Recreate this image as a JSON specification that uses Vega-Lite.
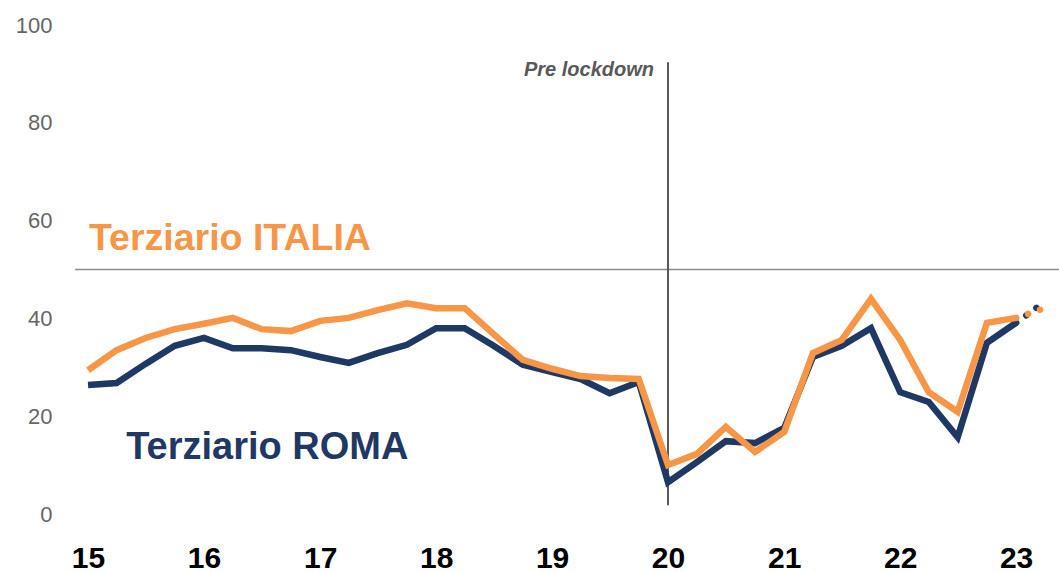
{
  "$schema": "https://vega.github.io/schema/vega-lite/v6.json",
  "width": 984,
  "height": 489,
  "autosize": {"type": "none"},
  "padding": {"left": 75, "top": 25, "right": 0, "bottom": 58},
  "background": "white",
  "config": {"view": {"stroke": null}},
  "datasets": {
    "serie": [
      {"data": "2015-01-01", "serie": "Terziario ITALIA", "valore": 29.4},
      {"data": "2015-04-01", "serie": "Terziario ITALIA", "valore": 33.5},
      {"data": "2015-07-01", "serie": "Terziario ITALIA", "valore": 36.0},
      {"data": "2015-10-01", "serie": "Terziario ITALIA", "valore": 37.8},
      {"data": "2016-01-01", "serie": "Terziario ITALIA", "valore": 38.9},
      {"data": "2016-04-01", "serie": "Terziario ITALIA", "valore": 40.1},
      {"data": "2016-07-01", "serie": "Terziario ITALIA", "valore": 37.8},
      {"data": "2016-10-01", "serie": "Terziario ITALIA", "valore": 37.4},
      {"data": "2017-01-01", "serie": "Terziario ITALIA", "valore": 39.5},
      {"data": "2017-04-01", "serie": "Terziario ITALIA", "valore": 40.1},
      {"data": "2017-07-01", "serie": "Terziario ITALIA", "valore": 41.7},
      {"data": "2017-10-01", "serie": "Terziario ITALIA", "valore": 43.1},
      {"data": "2018-01-01", "serie": "Terziario ITALIA", "valore": 42.1},
      {"data": "2018-04-01", "serie": "Terziario ITALIA", "valore": 42.1},
      {"data": "2018-07-01", "serie": "Terziario ITALIA", "valore": 36.8},
      {"data": "2018-10-01", "serie": "Terziario ITALIA", "valore": 31.5},
      {"data": "2019-01-01", "serie": "Terziario ITALIA", "valore": 29.7},
      {"data": "2019-04-01", "serie": "Terziario ITALIA", "valore": 28.2},
      {"data": "2019-07-01", "serie": "Terziario ITALIA", "valore": 27.8},
      {"data": "2019-10-01", "serie": "Terziario ITALIA", "valore": 27.6},
      {"data": "2020-01-01", "serie": "Terziario ITALIA", "valore": 10.0},
      {"data": "2020-04-01", "serie": "Terziario ITALIA", "valore": 12.3},
      {"data": "2020-07-01", "serie": "Terziario ITALIA", "valore": 17.8},
      {"data": "2020-10-01", "serie": "Terziario ITALIA", "valore": 12.7},
      {"data": "2021-01-01", "serie": "Terziario ITALIA", "valore": 16.8},
      {"data": "2021-04-01", "serie": "Terziario ITALIA", "valore": 32.9},
      {"data": "2021-07-01", "serie": "Terziario ITALIA", "valore": 35.6},
      {"data": "2021-10-01", "serie": "Terziario ITALIA", "valore": 44.0},
      {"data": "2022-01-01", "serie": "Terziario ITALIA", "valore": 35.6},
      {"data": "2022-04-01", "serie": "Terziario ITALIA", "valore": 24.9},
      {"data": "2022-07-01", "serie": "Terziario ITALIA", "valore": 20.9},
      {"data": "2022-10-01", "serie": "Terziario ITALIA", "valore": 39.1},
      {"data": "2023-01-01", "serie": "Terziario ITALIA", "valore": 40.1},
      {"data": "2015-01-01", "serie": "Terziario ROMA", "valore": 26.4},
      {"data": "2015-04-01", "serie": "Terziario ROMA", "valore": 26.8},
      {"data": "2015-07-01", "serie": "Terziario ROMA", "valore": 30.7},
      {"data": "2015-10-01", "serie": "Terziario ROMA", "valore": 34.4},
      {"data": "2016-01-01", "serie": "Terziario ROMA", "valore": 36.0},
      {"data": "2016-04-01", "serie": "Terziario ROMA", "valore": 33.9},
      {"data": "2016-07-01", "serie": "Terziario ROMA", "valore": 33.9},
      {"data": "2016-10-01", "serie": "Terziario ROMA", "valore": 33.5},
      {"data": "2017-01-01", "serie": "Terziario ROMA", "valore": 32.1},
      {"data": "2017-04-01", "serie": "Terziario ROMA", "valore": 30.9},
      {"data": "2017-07-01", "serie": "Terziario ROMA", "valore": 32.9},
      {"data": "2017-10-01", "serie": "Terziario ROMA", "valore": 34.6},
      {"data": "2018-01-01", "serie": "Terziario ROMA", "valore": 38.0},
      {"data": "2018-04-01", "serie": "Terziario ROMA", "valore": 38.0},
      {"data": "2018-07-01", "serie": "Terziario ROMA", "valore": 34.4},
      {"data": "2018-10-01", "serie": "Terziario ROMA", "valore": 30.5},
      {"data": "2019-01-01", "serie": "Terziario ROMA", "valore": 29.0},
      {"data": "2019-04-01", "serie": "Terziario ROMA", "valore": 27.6},
      {"data": "2019-07-01", "serie": "Terziario ROMA", "valore": 24.7},
      {"data": "2019-10-01", "serie": "Terziario ROMA", "valore": 27.0},
      {"data": "2020-01-01", "serie": "Terziario ROMA", "valore": 6.5},
      {"data": "2020-04-01", "serie": "Terziario ROMA", "valore": 10.6},
      {"data": "2020-07-01", "serie": "Terziario ROMA", "valore": 14.9},
      {"data": "2020-10-01", "serie": "Terziario ROMA", "valore": 14.5},
      {"data": "2021-01-01", "serie": "Terziario ROMA", "valore": 17.6},
      {"data": "2021-04-01", "serie": "Terziario ROMA", "valore": 32.1},
      {"data": "2021-07-01", "serie": "Terziario ROMA", "valore": 34.4},
      {"data": "2021-10-01", "serie": "Terziario ROMA", "valore": 38.0},
      {"data": "2022-01-01", "serie": "Terziario ROMA", "valore": 24.9},
      {"data": "2022-04-01", "serie": "Terziario ROMA", "valore": 22.9},
      {"data": "2022-07-01", "serie": "Terziario ROMA", "valore": 15.7},
      {"data": "2022-10-01", "serie": "Terziario ROMA", "valore": 35.0},
      {"data": "2023-01-01", "serie": "Terziario ROMA", "valore": 39.1}
    ],
    "stima": [
      {"data": "2023-01-01", "serie": "Terziario ROMA", "valore": 39.1},
      {"data": "2023-04-01", "serie": "Terziario ROMA", "valore": 43.4},
      {"data": "2023-01-01", "serie": "Terziario ITALIA", "valore": 40.1},
      {"data": "2023-04-01", "serie": "Terziario ITALIA", "valore": 42.1}
    ],
    "note": [
      {"testo": "Pre lockdown", "data": "2020-01-01", "valore": 89.6, "tipo": "lockdown"},
      {"testo": "Terziario ITALIA", "data": "2015-01-04", "valore": 54.0, "tipo": "ITALIA"},
      {"testo": "Terziario ROMA", "data": "2015-05-01", "valore": 11.25, "tipo": "ROMA"}
    ],
    "linee": [
      {"data": "2020-01-01", "inizio": 1.8, "fine": 92.4}
    ],
    "soglia": [
      {"valore": 50}
    ]
  },
  "layer": [
    {
      "data": {"name": "soglia"},
      "mark": {"type": "rule", "color": "#8c8c8c", "strokeWidth": 1.5},
      "encoding": {
        "y": {
          "field": "valore",
          "type": "quantitative",
          "scale": {"domain": [0, 100], "nice": false, "zero": true},
          "axis": {
            "title": null,
            "values": [0, 20, 40, 60, 80, 100],
            "domain": false,
            "ticks": false,
            "grid": false,
            "labelFont": "Liberation Sans",
            "labelFontSize": 22,
            "labelColor": "#666666",
            "labelPadding": 23,
            "labelFlush": false
          }
        }
      }
    },
    {
      "data": {"name": "linee"},
      "mark": {"type": "rule", "color": "#595959", "strokeWidth": 2},
      "encoding": {
        "x": {
          "field": "data",
          "type": "temporal",
          "scale": {
            "type": "utc",
            "domain": [
              {"year": 2014, "month": 11, "date": 21, "utc": true},
              {"year": 2023, "month": 5, "date": 16, "utc": true}
            ]
          },
          "axis": {
            "title": null,
            "labelExpr": "utcFormat(datum.value, '%y')",
            "tickCount": {"interval": "year", "step": 1},
            "domain": false,
            "ticks": false,
            "grid": false,
            "labelFont": "Liberation Sans",
            "labelFontSize": 30,
            "labelFontWeight": "bold",
            "labelColor": "#000000",
            "labelPadding": 53,
            "labelBaseline": "alphabetic",
            "labelFlush": false,
            "labelOverlap": false
          }
        },
        "y": {"field": "inizio", "type": "quantitative"},
        "y2": {"field": "fine"}
      }
    },
    {
      "data": {"name": "stima"},
      "mark": {"type": "line", "strokeWidth": 6.5, "strokeCap": "round", "strokeDash": [0.1, 12.5]},
      "encoding": {
        "x": {"field": "data", "type": "temporal"},
        "y": {"field": "valore", "type": "quantitative"},
        "color": {
          "field": "serie",
          "type": "nominal",
          "scale": {"domain": ["Terziario ROMA", "Terziario ITALIA"], "range": ["#1F3864", "#F79646"]},
          "legend": null
        }
      }
    },
    {
      "data": {"name": "serie"},
      "transform": [{"filter": "datum.serie === 'Terziario ROMA'"}],
      "mark": {"type": "line", "strokeWidth": 6.5, "strokeJoin": "miter", "strokeCap": "butt", "color": "#1F3864"},
      "encoding": {
        "x": {"field": "data", "type": "temporal"},
        "y": {"field": "valore", "type": "quantitative"}
      }
    },
    {
      "data": {"name": "serie"},
      "transform": [{"filter": "datum.serie === 'Terziario ITALIA'"}],
      "mark": {"type": "line", "strokeWidth": 6.5, "strokeJoin": "miter", "strokeCap": "butt", "color": "#F79646"},
      "encoding": {
        "x": {"field": "data", "type": "temporal"},
        "y": {"field": "valore", "type": "quantitative"}
      }
    },
    {
      "data": {"name": "note"},
      "transform": [{"filter": "datum.tipo === 'lockdown'"}],
      "mark": {"type": "text", "align": "right", "baseline": "alphabetic", "dx": -14, "font": "Liberation Sans", "fontSize": 20, "fontWeight": "bold", "fontStyle": "italic", "color": "#595959"},
      "encoding": {
        "x": {"field": "data", "type": "temporal"},
        "y": {"field": "valore", "type": "quantitative"},
        "text": {"field": "testo"}
      }
    },
    {
      "data": {"name": "note"},
      "transform": [{"filter": "datum.tipo === 'ITALIA'"}],
      "mark": {"type": "text", "align": "left", "baseline": "alphabetic", "font": "Liberation Sans", "fontSize": 37.5, "fontWeight": "bold", "color": "#F79646"},
      "encoding": {
        "x": {"field": "data", "type": "temporal"},
        "y": {"field": "valore", "type": "quantitative"},
        "text": {"field": "testo"}
      }
    },
    {
      "data": {"name": "note"},
      "transform": [{"filter": "datum.tipo === 'ROMA'"}],
      "mark": {"type": "text", "align": "left", "baseline": "alphabetic", "font": "Liberation Sans", "fontSize": 38, "fontWeight": "bold", "color": "#1F3864"},
      "encoding": {
        "x": {"field": "data", "type": "temporal"},
        "y": {"field": "valore", "type": "quantitative"},
        "text": {"field": "testo"}
      }
    }
  ]
}
